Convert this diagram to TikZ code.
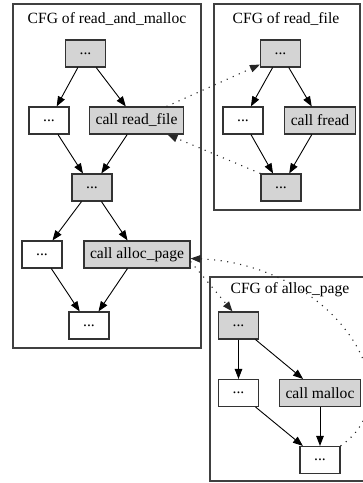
\documentclass[tikz,border=0pt]{standalone}
\usepackage{fontspec}
\setmainfont{Liberation Serif}
\usetikzlibrary{arrows.meta, positioning}

\begin{document}
\begin{tikzpicture}[
				x=1pt, y=-1pt,
				->,
				>={Triangle[length=10pt, width=7.5pt]},
				line width=0.9pt,
				font=\fontsize{15.6}{18}\selectfont,
				every node/.style={inner sep=0pt},
				cluster/.style={draw=black!75, line width=1.2pt, rectangle},
				block/.style={draw=black!80, line width=1.1pt, rectangle, fill=white, minimum width=40pt, minimum height=27pt, inner xsep=6pt},
				callblock/.style={block, fill=black!17},
				calllink/.style={black!85, line width=1.1pt, dash pattern=on 1.1pt off 5.5pt}]
			
			\useasboundingbox (0,0) rectangle (363,483);
			
			% clusters
			\node[cluster, minimum width=188pt, minimum height=344pt] (ram_cluster) at (107,176) {};
			\node[cluster, minimum width=146pt, minimum height=206pt] (rf_cluster) at (287,107) {};
			\node[cluster, minimum width=160pt, minimum height=204pt] (ap_cluster) at (290,379) {};
			\node (ram_title) at (107,19) {CFG of read\_and\_malloc};
			\node (rf_title) at (286,19) {CFG of read\_file};
			\node (ap_title) at (290,290) {CFG of alloc\_page};
			
			% read_and_malloc
			\node[callblock] (ram_entry) at (85.5,53.5) {...};
			\node[block] (ram_left) at (49,120.5) {...};
			\node[callblock] (ram_readcall) at (136.5,120.5) {call read\_file};
			\node[callblock] (ram_join) at (92,187.5) {...};
			\node[block] (ram_left2) at (42,254.5) {...};
			\node[callblock] (ram_alloccall) at (137,254.5) {call alloc\_page};
			\node[block] (ram_exit) at (89,325.5) {...};
			
			% read_file
			\node[callblock] (rf_entry) at (280.5,53.5) {...};
			\node[block] (rf_left) at (243,120.5) {...};
			\node[callblock] (rf_freadcall) at (320,120.5) {call fread};
			\node[callblock] (rf_exit) at (281,187.5) {...};
			
			% alloc_page
			\node[callblock] (ap_entry) at (238.5,325.5) {...};
			\node[block] (ap_left) at (238.5,393) {...};
			\node[callblock] (ap_malloccall) at (320,393) {call malloc};
			\node[block] (ap_exit) at (320,460) {...};
			
			\draw	(ram_entry) edge (ram_left)
					(ram_entry) edge (ram_readcall)
					(ram_left) edge (ram_join)
					(ram_readcall) edge (ram_join)
					(ram_join) edge (ram_left2)
					(ram_join) edge (ram_alloccall)
					(ram_left2) edge (ram_exit)
					(ram_alloccall) edge (ram_exit);
			
			\draw	(rf_entry) edge (rf_left)
					(rf_entry) edge (rf_freadcall)
					(rf_left) edge (rf_exit)
					(rf_freadcall) edge (rf_exit);
			
			\draw	(ap_entry) edge (ap_left)
					(ap_entry) edge (ap_malloccall)
					(ap_left) edge (ap_exit)
					(ap_malloccall) edge (ap_exit);
			
			% calls and returns
			\draw[calllink] ([xshift=30pt]ram_readcall.north) -- ([yshift=3pt]rf_entry.south west);
			\draw[calllink] (rf_exit.north west) -- ([xshift=31pt]ram_readcall.south);
			\draw[calllink] ([yshift=-7pt]ram_alloccall.east) -- ([xshift=-6pt]ap_entry.north);
			\draw[calllink] (ap_exit.north east) .. controls (418,392) and (332,264) .. ([yshift=-4pt]ram_alloccall.east);
			
		\end{tikzpicture}
\end{document}
